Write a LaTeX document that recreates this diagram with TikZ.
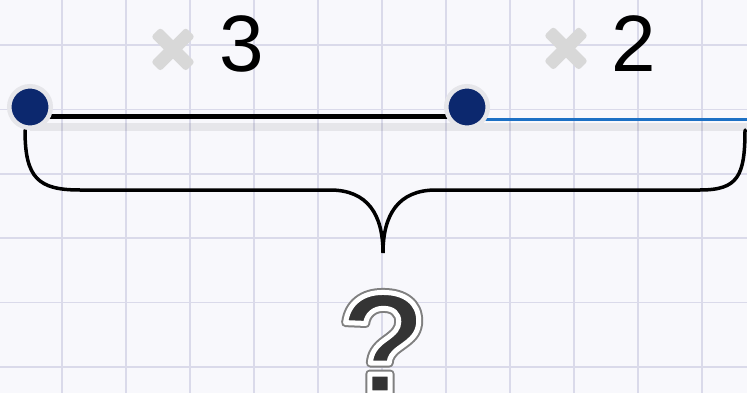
\documentclass[tikz,border=0pt]{standalone}
\usepackage{fontspec}
\setmainfont{Liberation Sans}
\newfontfamily\symfont{DejaVu Sans}
\usetikzlibrary{positioning}
\definecolor{gridbg}{RGB}{248,248,252}
\definecolor{gridline}{RGB}{218,218,234}
\definecolor{dotnavy}{RGB}{12,40,110}
\definecolor{dotrim}{RGB}{230,230,234}
\definecolor{segblue}{RGB}{28,112,196}
\definecolor{timesgray}{RGB}{216,216,216}
\definecolor{qgray}{RGB}{52,52,52}
% text with a stroked outline (fill, then stroke)
\newcommand\strk[3]{\special{pdf:literal direct #1 RG #2 w 1 j 1 J 2 Tr}#3\special{pdf:literal direct 0 Tr 1 w 0 j 0 J}}
\tikzset{
  dot/.style={circle,fill=dotnavy,draw=dotrim,line width=4.5pt,minimum size=41.5pt,inner sep=0pt},
  seg/.style={line width=5pt},
  shadowline/.style={black,opacity=0.07,line width=8pt},
  brace/.style={line width=3.5pt,line cap=round},
  factor/.style={font=\fontsize{80}{80}\selectfont,anchor=base,inner sep=0pt},
  times/.style={font=\symfont\bfseries\fontsize{60}{60}\selectfont,text=timesgray,inner sep=0pt},
}

\begin{document}
\begin{tikzpicture}[x=1pt,y=-1pt]
  \fill[gridbg] (0,0) rectangle (747,393);
  \useasboundingbox (0,0) rectangle (747,393);
  % squared paper
  \foreach \gx in {-2,62,...,766}
    \draw[gridline,line width=1.6pt] (\gx,0) -- (\gx,393);
  \foreach \gy in {-19.4,45,...,400}
    \draw[gridline,line width=1.6pt] (0,\gy) -- (747,\gy);

  \coordinate (a) at (30,107);
  \coordinate (b) at (467,107);
  \coordinate (c) at (747,120);
  \coordinate (braceL) at (25,130);
  \coordinate (braceR) at (745,130);
  \coordinate (cusp) at (383,253);

  % segments
  \draw[shadowline] ([yshift=-20pt]a) -- ([yshift=-7pt]c);
  \draw[seg] ([yshift=-10pt]a) -- ([yshift=-10pt]b);
  \draw[segblue,line width=3pt] ([yshift=-13pt]b) -- (c);

  % brace
  \draw[brace] (braceL) .. controls (25,178) and (38,190) .. (80,190) -- (330,190)
    .. controls (368,190) and (383,215) .. (cusp)
    .. controls (383,215) and (398,190) .. (436,190) -- (700,190)
    .. controls (738,190) and (745,176) .. (braceR);

  \node[dot] (p0) at (a) {};
  \node[dot] (p1) at (b) {};

  \node[factor] (f1) at (242,72) {3};
  \node[factor] (f2) at (634,72) {2};
  \node[times] (x1) at (173,50) {\strk{0.847 0.847 0.847}{6}{×}};
  \node[times] (x2) at (566,49) {\strk{0.847 0.847 0.847}{6}{×}};

  \node[font=\bfseries\fontsize{144}{144}\selectfont,text=qgray,anchor=base,inner sep=0pt] (q) at (383,393)
    {\rlap{\color{white}\strk{0.5 0.5 0.5}{9}{?}}\strk{1 1 1}{5}{?}};
\end{tikzpicture}
\end{document}
